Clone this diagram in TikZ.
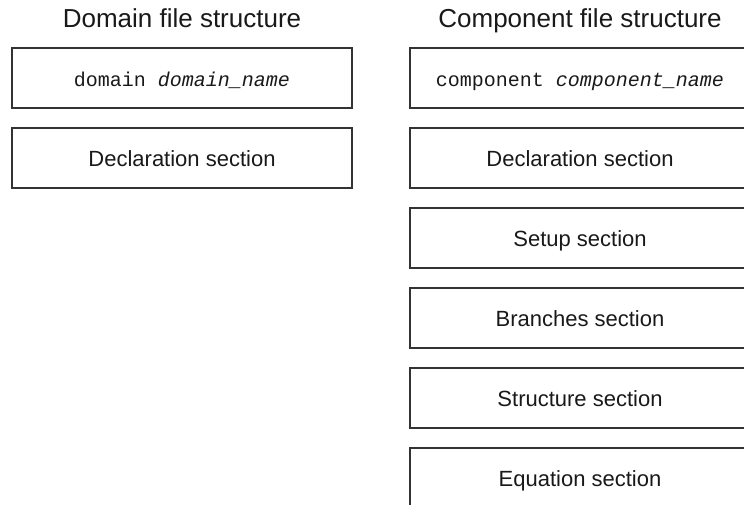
\documentclass[tikz,border=0pt]{standalone}
\usepackage{fontspec}
\setmainfont{Liberation Sans}
\setmonofont{Liberation Mono}
\usepackage{tikz}
\usetikzlibrary{matrix,positioning}

\tikzset{
  sectbox/.style={draw=black!80,line width=1.6pt,minimum width=340pt,minimum height=60pt,
    inner sep=0pt,outer sep=0pt,text height=16pt,text depth=0pt,
    font=\fontsize{22}{26}\selectfont,text=black!90},
  filetitle/.style={inner sep=0pt,text depth=0pt,font=\fontsize{26}{30}\selectfont,text=black!90},
  kw/.style={font=\fontsize{20}{24}\selectfont\ttfamily}
}

\begin{document}
\begin{tikzpicture}[x=1pt,y=1pt]
  \path[use as bounding box,clip] (0,0) rectangle (744,-504);
  \matrix (m) [matrix of nodes,row sep=18.4pt,column sep=56.4pt,nodes={sectbox},
               matrix anchor=m-1-1.north west] at (12,-48) {
     |[kw]| domain \textit{domain\_name} & |[kw]| component \textit{component\_name} \\
     Declaration section & Declaration section \\
     & Setup section \\
     & Branches section \\
     & Structure section \\
     & Equation section \\};
  \node[filetitle,above=20pt of m-1-1] (dtitle) {Domain file structure};
  \node[filetitle,above=20pt of m-1-2] (ctitle) {Component file structure};
\end{tikzpicture}
\end{document}
